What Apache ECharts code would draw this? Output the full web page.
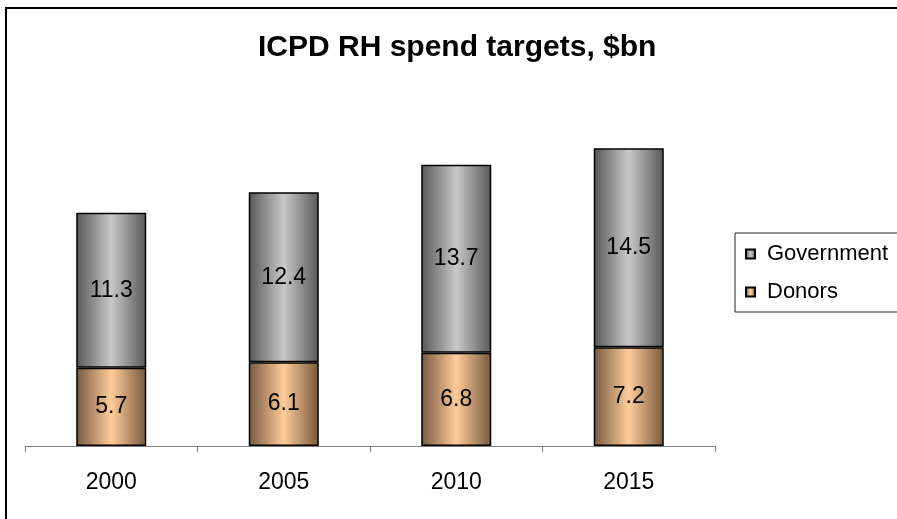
<!DOCTYPE html>
<html><head><meta charset="utf-8">
<script src="https://cdn.jsdelivr.net/npm/echarts@6/dist/echarts.min.js"></script>
<style>html,body{margin:0;padding:0;background:#fff}#c{width:897px;height:519px}</style>
</head><body><div id="c"></div>
<script>
const categories = ['2000', '2005', '2010', '2015'];
const donors = [5.7, 6.1, 6.8, 7.2];
const government = [11.3, 12.4, 13.7, 14.5];
const titleText = 'ICPD RH spend targets, $bn';

function grad(edge, mid) {
  return new echarts.graphic.LinearGradient(0, 0, 1, 0, [
    {offset: 0, color: edge}, {offset: 0.5, color: mid}, {offset: 1, color: edge}
  ]);
}
const chart = echarts.init(document.getElementById('c'), null, {renderer: 'canvas'});
const labelStyle = {show: true, position: 'inside', color: '#000', fontFamily: 'Liberation Sans, Arial', fontSize: 23};
chart.setOption({
  animation: false,
  backgroundColor: '#fff',
  title: {text: titleText, left: 253, top: 28, itemGap: 0,
    textStyle: {fontFamily: 'Liberation Sans, Arial', fontWeight: 'bold', fontSize: 30, color: '#000'}},
  graphic: [{type: 'rect', shape: {x: 6, y: 8, width: 1000, height: 1000},
    style: {fill: 'none', stroke: '#000', lineWidth: 2}, silent: true, z: 100}],
  legend: {
    orient: 'vertical', left: 735, top: 233,
    data: ['Government', 'Donors'],
    icon: 'rect', itemWidth: 9, itemHeight: 9, itemGap: 16,
    padding: [10, 60, 9, 10],
    borderColor: '#222', borderWidth: 1,
    textStyle: {fontFamily: 'Liberation Sans, Arial', fontSize: 22, color: '#000', padding: [0, 0, 0, 7]}
  },
  grid: {left: 25, right: 182, top: 103, bottom: 73},
  xAxis: {
    type: 'category', data: categories,
    axisLine: {lineStyle: {color: '#808080', width: 1}},
    axisTick: {show: true, length: 6, lineStyle: {color: '#808080'}},
    axisLabel: {fontFamily: 'Liberation Sans, Arial', fontSize: 23, color: '#000', margin: 25}
  },
  yAxis: {type: 'value', min: 0, max: 25, show: false, splitLine: {show: false}},
  series: [
    {name: 'Donors', type: 'bar', stack: 't', data: donors, barWidth: 70,
      itemStyle: {color: grad('#76593f', '#ffcc99'), borderColor: '#000', borderWidth: 1.5},
      label: labelStyle},
    {name: 'Government', type: 'bar', stack: 't', data: government, barWidth: 70,
      itemStyle: {color: grad('#585858', '#c8c8c8'), borderColor: '#000', borderWidth: 1.5},
      label: labelStyle}
  ]
});
</script></body></html>
